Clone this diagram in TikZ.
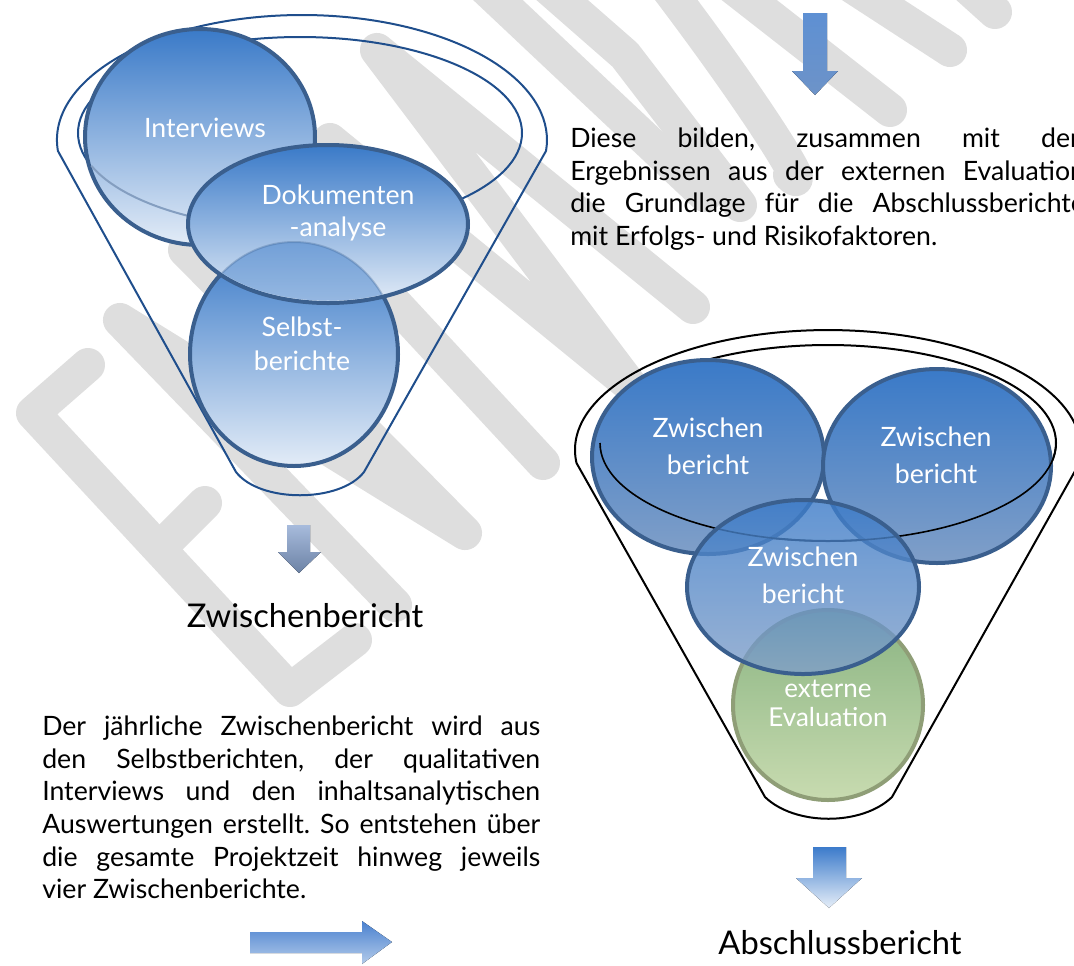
\documentclass[tikz,border=0pt]{standalone}
\usepackage{fontspec}
\setmainfont{Lato}
\usetikzlibrary{shapes.geometric}
\usetikzlibrary{positioning}

\definecolor{discblue}{HTML}{3A7AC8}
\definecolor{discmid}{HTML}{4E84C4}
\definecolor{discgray}{HTML}{809FC8}
\definecolor{discpale}{HTML}{E3ECF7}
\definecolor{discedge}{HTML}{3A5F8E}
\definecolor{funnelblue}{HTML}{1F4E8C}
\definecolor{evaltop}{HTML}{8AB482}
\definecolor{evalbot}{HTML}{C8DBB0}
\definecolor{evaledge}{HTML}{8F9E77}
\definecolor{stamp}{HTML}{DEDEDE}
\definecolor{arrowtop}{HTML}{5E90D3}
\definecolor{arrowmid}{HTML}{8FB0DC}
\definecolor{arrowbot}{HTML}{6D93C8}
\definecolor{paletop}{HTML}{A7BBDC}
\definecolor{palebot}{HTML}{6C82A5}
\definecolor{righttop}{HTML}{4A81CF}
\definecolor{rightbot}{HTML}{B3CBEA}
\definecolor{finaltop}{HTML}{3C7BCB}
\definecolor{finalbot}{HTML}{E6EEF8}

\newcommand{\bodyfont}{\fontsize{20}{24.4}\selectfont\hyphenpenalty=10000\frenchspacing}

\begin{document}
\begin{tikzpicture}[x=0.75pt,y=-0.75pt,
    stamp line/.style={draw=stamp,line width=25.5pt,line cap=round,line join=round},
    funnel/.style={draw=funnelblue,line width=1.5pt},
    rfunnel/.style={draw=black,line width=1.5pt},
    disc/.style={ellipse,draw=discedge,line width=3pt,inner sep=0pt,
      top color=discblue,middle color=discblue,bottom color=discpale},
    rdisc/.style={ellipse,draw=discedge,line width=3pt,inner sep=0pt,
      top color=discblue,middle color=discmid,bottom color=discgray},
    evaldisc/.style={ellipse,draw=evaledge,line width=3pt,inner sep=0pt,
      top color=evaltop,bottom color=evalbot},
    disctext/.style={text=white,align=center,inner sep=0pt},
    bodytext/.style={text width=#1,align=justify,inner sep=0pt,anchor=north west,font=\bodyfont},
    headtext/.style={font=\fontsize{24.5}{29}\selectfont,inner sep=0pt}]

  \useasboundingbox (0,0) rectangle (1074,965);

  % watermark in the background
  \begin{scope}
    \draw[stamp line] (88,365) -- (33,413) -- (290,690) -- (355,640);
    \draw[stamp line] (160,548) -- (205,503);
    \draw[stamp line] (395,605) -- (120,320) -- (465,533) -- (185,250);
    \draw[stamp line] (543,463) -- (286,186);
    \draw[stamp line] (235,234) -- (330,140) -- (630,385) -- (377,50) -- (693,307);
    \draw[stamp line] (482,-15) -- (705,195);
    \draw[stamp line] (545,-15) -- (625,55) -- (740,205);
    \draw[stamp line] (665,-15) .. controls (760,110) and (815,200) .. (790,175);
    \draw[stamp line] (730,-15) -- (890,110);
    \draw[stamp line] (850,-15) -- (950,50);
    \draw[stamp line] (965,-15) -- (995,12);
  \end{scope}

  % left funnel
  \draw[funnel] (236,472) -- (57.9,150.9)
    arc[start angle=185,end angle=-5,x radius=183.75pt,y radius=93.75pt]
    -- (364,472) .. controls (340,503) and (260,503) .. (236,472);
  \draw[funnel] (300,133) ellipse[x radius=166.5pt,y radius=72pt];

  \node[disc,minimum width=172.5pt,minimum height=162pt] (interviews) at (200,137) {};
  \draw[funnel,draw=funnelblue!55!white] (91.4,165.8)
    arc[start angle=200,end angle=241,x radius=166.5pt,y radius=72pt];
  \node[disc,minimum width=156pt,minimum height=168pt] (selbst) at (294,354) {};
  \node[disc,minimum width=210pt,minimum height=118.5pt] (doku) at (328,224) {};
  \begin{scope}
    \clip (328,224) ellipse[x radius=103pt,y radius=57.5pt];
    \fill[discblue,fill opacity=0.45] (294,354) ellipse[x radius=78pt,y radius=84pt];
    \draw[discedge,line width=1.5pt,draw opacity=0.3] (294,354) ellipse[x radius=78pt,y radius=84pt];
  \end{scope}

  \node[disctext,font=\fontsize{20}{24}\selectfont] (interviewslabel) at (205,128) {Interviews};
  \node[disctext,font=\fontsize{20}{24}\selectfont] (dokulabel) at (338,213) {Dokumenten\\-analyse};
  \node[disctext,font=\fontsize{20}{25.5}\selectfont] (selbstlabel) at (302,344) {Selbst-\\berichte};

  % right funnel
  \draw[rfunnel] (765,797) -- (576.5,463)
    arc[start angle=186.2,end angle=-6.2,x radius=189.75pt,y radius=90pt]
    -- (892,797) .. controls (862,826) and (795,826) .. (765,797);
  \draw[rfunnel] (828,443) ellipse[x radius=171pt,y radius=73.5pt];

  \node[evaldisc,minimum width=142.5pt,minimum height=142.5pt] (eval) at (828,705) {};
  \node[rdisc,minimum width=174pt,minimum height=145.5pt] (zwa) at (708,457) {};
  \node[rdisc,minimum width=171pt,minimum height=145.5pt] (zwb) at (937,466) {};
  \draw[rfunnel,line width=1.2pt] (600,443) arc[start angle=180,end angle=360,x radius=171pt,y radius=73.5pt];
  \node[rdisc,minimum width=174pt,minimum height=130.5pt,fill opacity=0.8] (zwc) at (803,587) {};

  \node[disctext,font=\fontsize{20}{27.75}\selectfont] (zwalabel) at (708,446) {Zwischen\\bericht};
  \node[disctext,font=\fontsize{20}{27.75}\selectfont] (zwblabel) at (936,455) {Zwischen\\bericht};
  \node[disctext,font=\fontsize{20}{27.75}\selectfont] (zwclabel) at (803,575) {Zwischen\\bericht};
  \node[disctext,font=\fontsize{19.5}{21.75}\selectfont] (evallabel) at (828,703) {externe\\Evaluation};

  % block arrows
  \fill[top color=arrowtop,middle color=arrowmid,bottom color=arrowbot]
    (803,13) -- (827,13) -- (827,71) -- (838,71) -- (815,95) -- (792,71) -- (803,71) -- cycle;
  \fill[top color=paletop,bottom color=palebot]
    (287,525) -- (310,525) -- (310,552) -- (321,552) -- (299,573) -- (278,552) -- (287,552) -- cycle;
  \fill[top color=righttop,bottom color=rightbot]
    (250,932) -- (362,932) -- (362,921) -- (392,942) -- (362,964) -- (362,953) -- (250,953) -- cycle;
  \fill[top color=finaltop,middle color=finaltop!80!white,bottom color=finalbot]
    (813,847) -- (846,847) -- (846,878) -- (862,878) -- (829,908) -- (796,878) -- (813,878) -- cycle;

  % texts
  \node[headtext] (zwischen) at (305,616) {Zwischenbericht};
  \node[headtext] (abschluss) at (840,943) {Abschlussbericht};

  \node[bodytext=373.5pt] (jaehrlich) at (42,716) {Der jährliche Zwischenbericht wird aus\linebreak
    den Selbstberichten, der qualitativen\linebreak
    Interviews und den inhaltsanalytischen\linebreak
    Auswertungen erstellt. So entstehen über\linebreak
    die gesamte Projektzeit hinweg jeweils\linebreak
    vier Zwischenberichte.};
  \node[bodytext=386pt] (diese) at (570,128) {Diese bilden, zusammen mit den\linebreak
    Ergebnissen aus der externen Evaluation\linebreak
    die Grundlage für die Abschlussberichte\linebreak
    mit Erfolgs- und Risikofaktoren.};
\end{tikzpicture}
\end{document}
